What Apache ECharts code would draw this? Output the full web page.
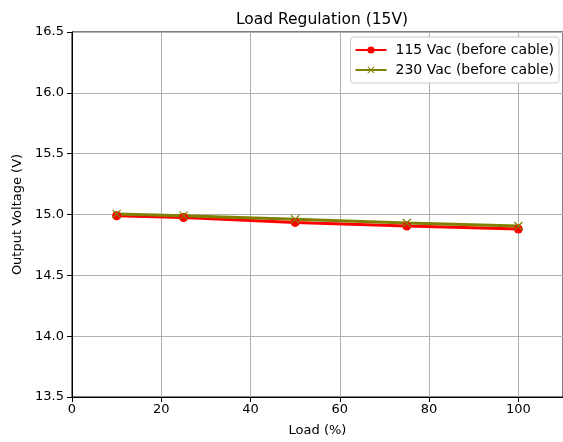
<!DOCTYPE html>
<html><head><meta charset="utf-8">
<script src="https://cdn.jsdelivr.net/npm/echarts@6/dist/echarts.min.js"></script>
<style>html,body{margin:0;padding:0;background:#fff}#c{width:563px;height:442px}</style>
</head><body><div id="c"></div>
<script>
const loads = [10, 25, 50, 75, 100];
const v115 = [14.99, 14.975, 14.935, 14.905, 14.88];
const v230 = [15.005, 14.99, 14.96, 14.93, 14.905];
const seriesNames = ['115 Vac (before cable)', '230 Vac (before cable)'];
const xTicks = [0, 20, 40, 60, 80, 100];
const font = 'DejaVu Sans';
const xMark = 'path://M0,1L1,0L5,4L9,0L10,1L6,5L10,9L9,10L5,6L1,10L0,9L4,5Z';
const chart = echarts.init(document.getElementById('c'));
chart.setOption({
  animation: false,
  backgroundColor: '#fff',
  textStyle: {fontFamily: font},
  title: {text: 'Load Regulation (15V)', left: 317, top: 7, textAlign: 'center',
    textStyle: {fontFamily: font, fontSize: 15.5, fontWeight: 'normal', color: '#000'}},
  grid: {left: 72, width: 493, top: 32, bottom: 44, show: true, borderColor: '#000', borderWidth: 1},
  legend: {orient: 'vertical', right: 4, top: 37, itemWidth: 31, itemHeight: 9, itemGap: 6,
    padding: [6, 5, 6, 4], borderColor: '#ccc', borderWidth: 1, borderRadius: 3, backgroundColor: '#fff',
    textStyle: {fontFamily: font, fontSize: 14, color: '#000', padding: [0, 0, 0, 4]},
    data: seriesNames},
  xAxis: {type: 'value', min: 0, max: 110, interval: 20,
    name: 'Load (%)', nameLocation: 'middle', nameGap: 27,
    nameTextStyle: {fontFamily: font, fontSize: 13, color: '#000'},
    axisLine: {show: true, lineStyle: {color: '#000'}},
    axisTick: {show: true, length: 5, lineStyle: {color: '#000'}},
    axisLabel: {fontFamily: font, fontSize: 13, color: '#000', margin: 6,
      showMaxLabel: false,
      formatter: v => xTicks.includes(v) ? String(v) : ''},
    splitLine: {show: true, lineStyle: {color: '#b0b0b0', width: 1}}},
  yAxis: {type: 'value', min: 13.5, max: 16.5, interval: 0.5,
    name: 'Output Voltage (V)', nameLocation: 'middle', nameGap: 47, nameRotate: 90,
    nameTextStyle: {fontFamily: font, fontSize: 13, color: '#000'},
    axisLine: {show: true, lineStyle: {color: '#000'}},
    axisTick: {show: true, length: 5, lineStyle: {color: '#000'}},
    axisLabel: {fontFamily: font, fontSize: 13, color: '#000', margin: 8, formatter: v => v.toFixed(1)},
    splitLine: {show: true, lineStyle: {color: '#b0b0b0', width: 1}}},
  series: [
    {name: seriesNames[0], type: 'line', data: loads.map((x, i) => [x, v115[i]]),
      symbol: 'circle', symbolSize: 9, lineStyle: {color: '#ff0000', width: 3},
      itemStyle: {color: '#ff0000'}},
    {name: seriesNames[1], type: 'line', data: loads.map((x, i) => [x, v230[i]]),
      symbol: xMark, symbolSize: 9, lineStyle: {color: '#808000', width: 3},
      itemStyle: {color: '#808000'}}
  ]
});
</script></body></html>
